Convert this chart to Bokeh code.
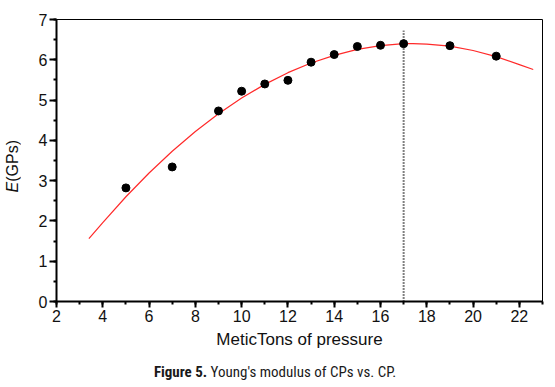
from bokeh.plotting import figure
from bokeh.models import Range1d, SingleIntervalTicker, Div
from bokeh.layouts import column, row
from bokeh.embed import file_html
from bokeh.resources import INLINE

# measured points (metric tons of pressure, Young's modulus GPa)
pressure = [5, 7, 9, 10, 11, 12, 13, 14, 15, 16, 17, 19, 21]
modulus = [2.82, 3.34, 4.73, 5.22, 5.40, 5.49, 5.94, 6.13, 6.33, 6.36, 6.40, 6.35, 6.09]

# fitted curve
fit_x = [3.4, 4, 5, 6, 7, 8, 9, 10, 11, 12, 13, 14, 15, 16, 17, 17.4, 18, 19, 20, 21, 22, 22.6]
fit_y = [1.56, 1.96, 2.60, 3.19, 3.73, 4.22, 4.66, 5.05, 5.39, 5.68, 5.92, 6.11, 6.26, 6.35,
         6.40, 6.40, 6.39, 6.34, 6.23, 6.08, 5.88, 5.76]

marker_x = 17
marker_top = 6.72

FONT = "Liberation Sans"

p = figure(width=530, height=358, output_backend="svg", toolbar_location=None,
           x_range=Range1d(2, 23), y_range=Range1d(0, 7),
           min_border_left=36, min_border_top=19, min_border_right=8, min_border_bottom=57)
p.background_fill_color = "white"
p.border_fill_color = "white"
p.outline_line_color = "black"
p.outline_line_width = 1
p.grid.visible = False

p.xaxis.ticker = SingleIntervalTicker(interval=2, num_minor_ticks=2)
p.yaxis.ticker = SingleIntervalTicker(interval=1, num_minor_ticks=2)

for ax in (p.xaxis[0], p.yaxis[0]):
    ax.axis_line_width = 2
    ax.axis_line_color = "black"
    ax.major_tick_line_width = 2
    ax.minor_tick_line_width = 2
    ax.major_tick_line_color = "black"
    ax.minor_tick_line_color = "black"
    ax.major_tick_in = 0
    ax.minor_tick_in = 0
    ax.major_label_text_font = FONT
    ax.major_label_text_font_size = "16px"
    ax.major_label_text_color = "#111111"

p.xaxis.major_tick_out = 6
p.xaxis.minor_tick_out = 3
p.yaxis.major_tick_out = 7
p.yaxis.minor_tick_out = 3
p.yaxis.major_label_standoff = 2
p.xaxis.major_label_standoff = 2

p.xaxis.axis_label = "MeticTons of pressure"
p.xaxis.axis_label_text_font = FONT
p.xaxis.axis_label_text_font_size = "17px"
p.xaxis.axis_label_text_font_style = "normal"
p.xaxis.axis_label_text_color = "#111111"
p.xaxis.axis_label_standoff = 5

p.line(fit_x, fit_y, line_color="#ff2a2a", line_width=1.2)
p.line([marker_x, marker_x], [0, marker_top], line_color="black", line_width=2, line_dash="1 2")
p.scatter(pressure, modulus, size=8, color="black")

ylabel = Div(
    text=('<div style="writing-mode: vertical-rl; transform: rotate(180deg); '
          'font-family: \'Liberation Sans\', Arial, sans-serif; font-size: 16px; color: #111111; '
          'white-space: nowrap; line-height: 18px; margin-top: 140px; margin-left: 4px;">'
          '<i>E</i>(GPs)</div>'),
    width=20, height=358, margin=(0, 0, 0, 0))

caption = Div(
    text='<span style="font-weight:bold">Figure 5.</span> Young\'s modulus of CPs vs. CP.',
    width=550, height=28, margin=(0, 0, 0, 0),
    styles={"text-align": "center",
            "font-family": "'Liberation Sans Narrow', 'Roboto Condensed', 'DejaVu Sans Condensed', sans-serif",
            "font-size": "15px", "line-height": "28px", "color": "#1a1a1a", "width": "550px"})

layout = column(row(ylabel, p, spacing=0), caption, spacing=0)
open("out.html", "w").write(file_html(layout, INLINE))
